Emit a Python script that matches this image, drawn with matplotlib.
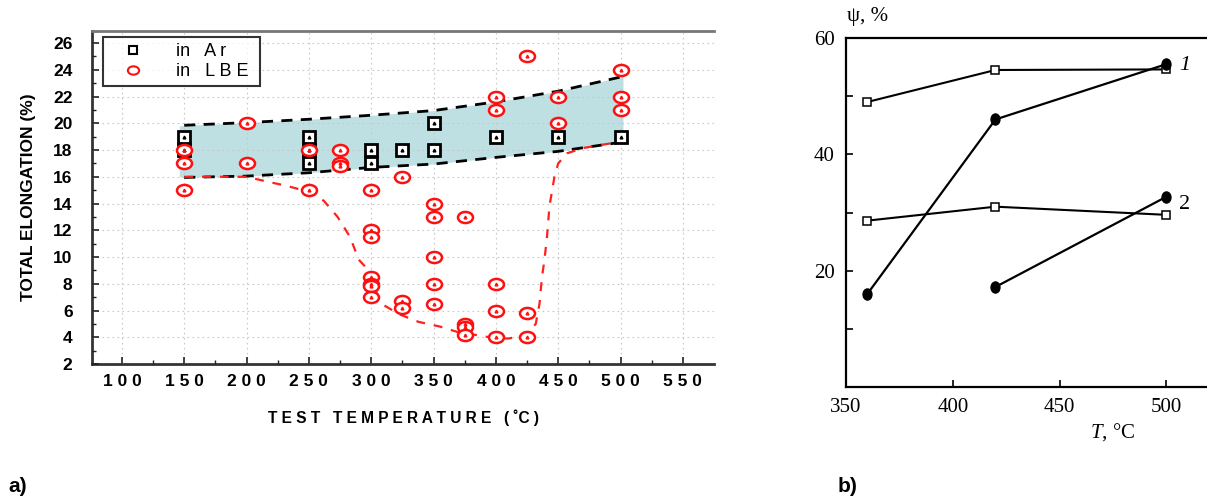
import matplotlib
matplotlib.use("Agg")
import matplotlib.pyplot as plt
from matplotlib.markers import MarkerStyle
from matplotlib.transforms import Affine2D
import numpy as np

plt.rcParams["mathtext.fontset"] = "custom"
plt.rcParams["mathtext.it"] = "Liberation Serif:italic"
plt.rcParams["mathtext.rm"] = "Liberation Serif"

# ---------------- Panel a data ----------------
ar_temp = [150, 150, 250, 250, 250, 300, 300, 325, 350, 350, 400, 450, 500]
ar_elong = [19, 18, 19, 18, 17, 18, 17, 18, 20, 18, 19, 19, 19]

lbe_temp = [150, 150, 150, 200, 200, 250, 250, 275, 275, 275,
            300, 300, 300, 300, 300, 300, 300,
            325, 325, 325, 350, 350, 350, 350, 350,
            375, 375, 375, 375, 400, 400, 400, 400, 400,
            425, 425, 425, 450, 450, 500, 500, 500]
lbe_elong = [18, 17, 15, 20, 17, 18, 15, 18, 17, 16.8,
             15, 12, 11.5, 8.5, 8.0, 7.8, 7.0,
             16, 6.7, 6.2, 14, 13, 10, 8, 6.5,
             13, 5.0, 4.8, 4.2, 22, 21, 8, 6, 4,
             25, 5.8, 4.0, 22, 20, 24, 22, 21]

band_temp = [146, 150, 200, 250, 300, 350, 400, 450, 502]
band_upper = [19.8, 19.85, 20.05, 20.3, 20.6, 20.95, 21.6, 22.4, 23.5]
band_lower = [16.0, 15.95, 16.05, 16.3, 16.7, 16.95, 17.45, 17.9, 18.6]

red_curve_temp = [150, 200, 209, 233, 253, 262, 273, 283, 290, 295, 299, 306, 310,
                  323, 338, 355, 369, 395, 410, 425, 432, 435, 437, 439, 441, 443,
                  447, 450, 457, 470, 492, 500]
red_curve_val = [16.0, 16.0, 15.8, 15.3, 14.8, 14.2, 13.0, 11.5, 9.8, 9.3, 8.7, 6.9, 6.4,
                 5.7, 5.15, 4.8, 4.4, 4.0, 3.9, 4.2, 5.0, 6.5, 8.5, 9.8, 11.5, 13.8,
                 16.0, 17.0, 17.75, 18.15, 18.5, 18.7]

a_xticks = [100, 150, 200, 250, 300, 350, 400, 450, 500, 550]
a_yticks = [2, 4, 6, 8, 10, 12, 14, 16, 18, 20, 22, 24, 26]

# ---------------- Panel b data ----------------
b_sq1_t = [360, 420, 500]
b_sq1_v = [49.0, 54.5, 54.6]
b_ci1_t = [360, 420, 500]
b_ci1_v = [16.0, 46.0, 55.5]
b_sq2_t = [360, 420, 500]
b_sq2_v = [28.6, 31.0, 29.6]
b_ci2_t = [420, 500]
b_ci2_v = [17.2, 32.7]
b_xticks = [350, 400, 450, 500]
b_yticks = [20, 40, 60]

W, H = 1207, 499
fig = plt.figure(figsize=(W / 100, H / 100), dpi=100)

def box(l, t, r, b):
    return [l / W, 1 - b / H, (r - l) / W, (b - t) / H]

sans = "Liberation Sans"
serif = "Liberation Serif"

# ================= Panel a =================
ax = fig.add_axes(box(92, 31, 714, 364))
ax.set_xlim(76, 575)
ax.set_ylim(2, 26.9)

ax.fill_between(band_temp, band_lower, band_upper, color="#bfe0e3", lw=0, zorder=1)
ax.grid(True, color="#c8c8c8", ls=(0, (1.5, 3)), lw=0.8, zorder=2)
ax.set_axisbelow(False)
ax.plot(band_temp[1:], band_upper[1:], color="black", ls=(0, (4, 3)), lw=2, zorder=3)
ax.plot(band_temp[1:], band_lower[1:], color="black", ls=(0, (4, 3)), lw=2, zorder=3)
ax.plot(red_curve_temp, red_curve_val, color="#ff2020", ls=(0, (4, 4)), lw=1.6, zorder=3)

ell = MarkerStyle("o", transform=Affine2D().scale(1.35, 1.0))
ax.plot(ar_temp, ar_elong, ls="none", marker="s", ms=9, mfc="white", mec="black",
        mew=2, zorder=4, label="in   A r")
ax.plot(lbe_temp, lbe_elong, ls="none", marker=ell, ms=8, mfc="white", mec="#ff1010",
        mew=1.8, zorder=5, label="in   L B E")
ax.plot(ar_temp, ar_elong, ls="none", marker="^", ms=2, color="black", zorder=6)
ax.plot(lbe_temp, lbe_elong, ls="none", marker="^", ms=2, color="#ff1010", zorder=6)

ax.set_xticks(a_xticks)
ax.set_xticklabels([" ".join(str(t)) for t in a_xticks], fontfamily=sans,
                   fontweight="bold", fontsize=12.5)
ax.set_yticks(a_yticks)
ax.set_yticklabels([str(t) for t in a_yticks], fontfamily=sans, fontweight="bold",
                   fontsize=12.5)
ax.set_xticks(np.arange(125, 575, 50), minor=True)
ax.set_yticks(np.arange(3, 27, 2), minor=True)
ax.tick_params(which="major", direction="in", length=5, width=1.2, color="#222222", pad=7)
ax.tick_params(which="minor", direction="in", length=3, width=1.0, color="#222222")
ax.tick_params(axis="y", which="major", pad=14)
for s in ["left", "bottom"]:
    ax.spines[s].set_linewidth(2)
    ax.spines[s].set_color("#333333")
ax.spines["top"].set_linewidth(2)
ax.spines["top"].set_color("#777777")
ax.spines["right"].set_visible(False)

ax.set_xlabel("T E S T   T E M P E R A T U R E   ( ˚C )", fontfamily=sans,
              fontweight="bold", fontsize=11.2, labelpad=15)
ax.set_ylabel("TOTAL ELONGATION (%)", fontfamily=sans, fontweight="bold",
              fontsize=12.5, labelpad=12)

leg = ax.legend(loc="upper left", bbox_to_anchor=((103 - 92) / 622, 1 - (37 - 31) / 333),
                prop={"family": sans, "size": 13}, frameon=True, fancybox=False,
                edgecolor="black", borderpad=0.35, handlelength=2.6, handletextpad=1.1,
                labelspacing=0.15, borderaxespad=0)
leg.get_frame().set_linewidth(1.5)
for h in leg.legend_handles:
    h.set_markersize(6)
    h.set_markeredgewidth(1.5)
for t in leg.get_texts():
    t.set_text(t.get_text() + " ")

fig.text(8 / W, 1 - 487 / H, "a)", fontfamily=sans, fontweight="bold", fontsize=15,
         va="center", ha="left")

# ================= Panel b =================
bx = fig.add_axes(box(846, 38, 1209, 387))
bx.set_xlim(350, 520)
bx.set_ylim(0, 60)
bx.plot(b_sq1_t, b_sq1_v, color="black", lw=1.5, marker="s", ms=6, mfc="white",
        mec="black", mew=1.1, zorder=3)
bx.plot(b_sq2_t, b_sq2_v, color="black", lw=1.5, marker="s", ms=6, mfc="white",
        mec="black", mew=1.1, zorder=3)
ellb = MarkerStyle("o", transform=Affine2D().scale(0.8, 1.0))
bx.plot(b_ci1_t, b_ci1_v, color="black", lw=1.6, marker=ellb, ms=8, zorder=4)
bx.plot(b_ci2_t, b_ci2_v, color="black", lw=1.6, marker=ellb, ms=8, zorder=4)

bx.text(506, 55.3, "1", fontfamily=serif, fontstyle="italic", fontsize=16,
        ha="left", va="center")
bx.text(506, 31.4, "2", fontfamily=serif, fontsize=16, ha="left", va="center")

bx.set_xticks(b_xticks)
bx.set_xticklabels([str(t) for t in b_xticks], fontfamily=serif, fontsize=15)
bx.set_yticks(b_yticks)
bx.set_yticklabels([str(t) for t in b_yticks], fontfamily=serif, fontsize=15)
bx.set_yticks([10, 30, 50], minor=True)
bx.tick_params(which="both", direction="in", length=5, width=1.2, pad=8)
for s in ["left", "bottom", "top"]:
    bx.spines[s].set_linewidth(1.6)
bx.spines["right"].set_visible(False)

fig.text(847 / W, 1 - 16 / H, "ψ, %", fontfamily=serif, fontsize=15, ha="left",
         va="center")
fig.text(1090 / W, 1 - 432 / H, "$\\mathit{T}$, °C", fontfamily=serif, fontsize=15,
         ha="left", va="center")
fig.text(838 / W, 1 - 487 / H, "b)", fontfamily=sans, fontweight="bold", fontsize=15,
         va="center", ha="left")

fig.savefig("out.png", dpi=100)
